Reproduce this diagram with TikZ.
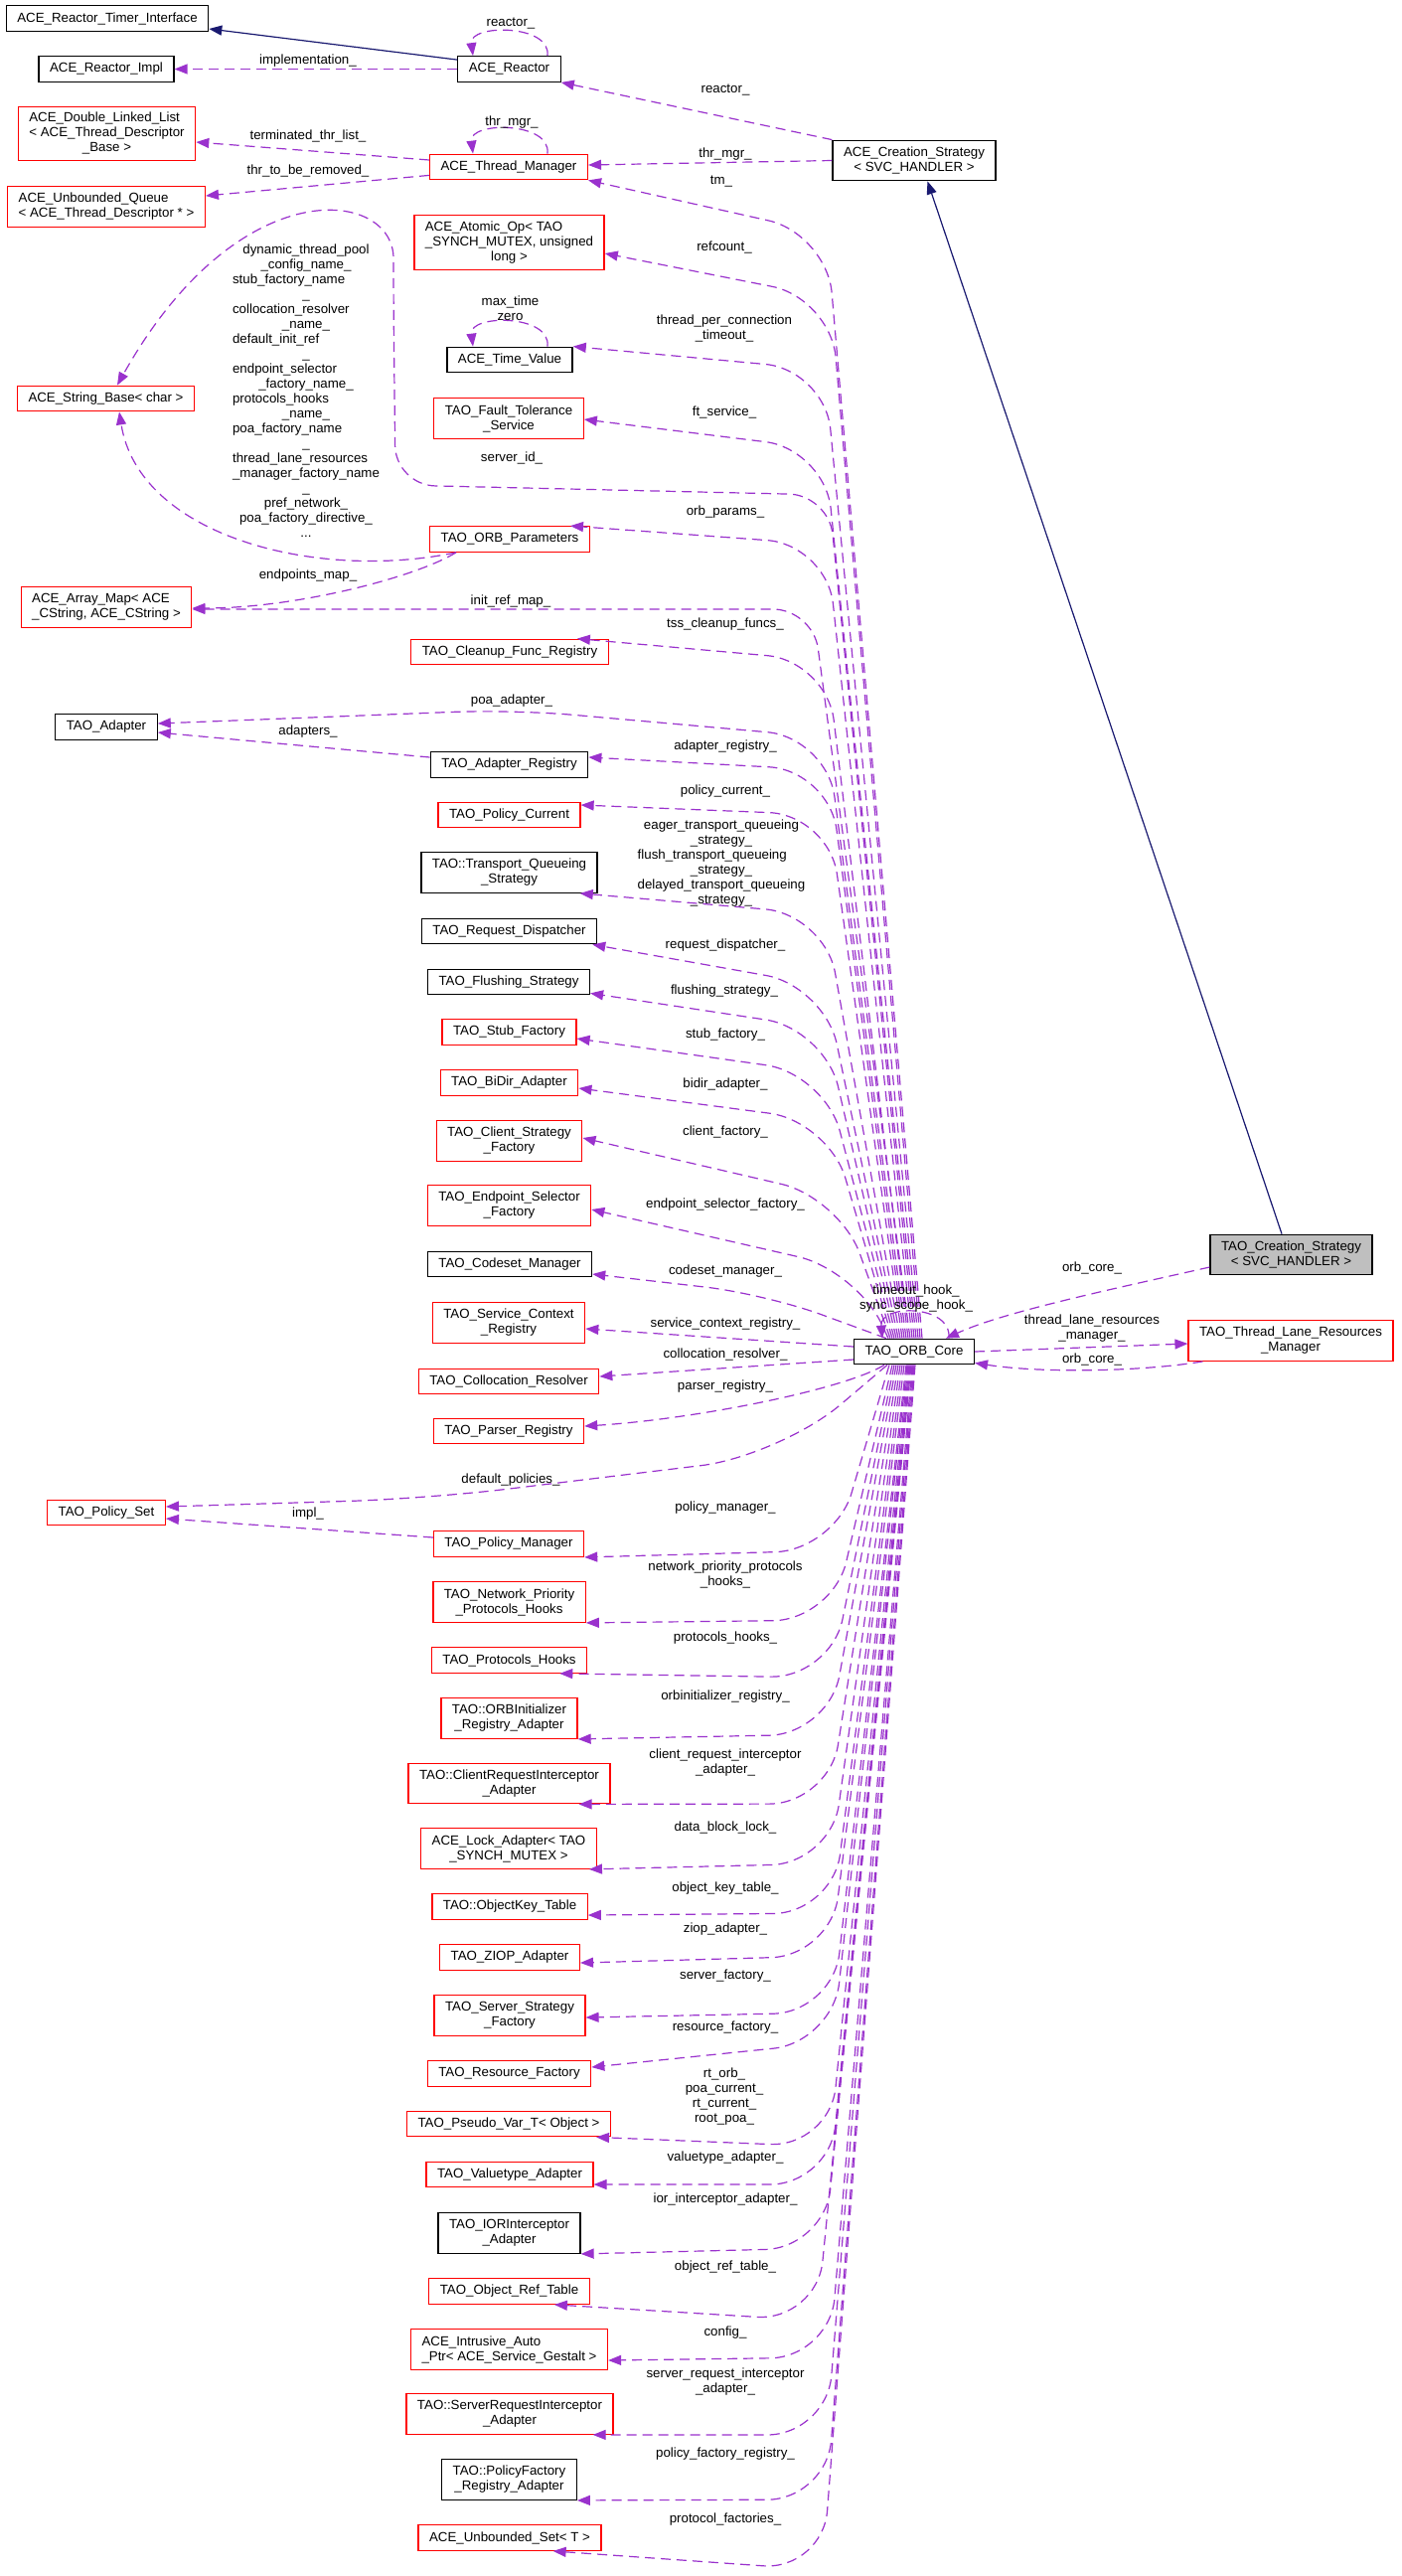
\documentclass[tikz,border=0pt]{standalone}
\usepackage{fontspec}
\setmainfont{Liberation Sans}
\usetikzlibrary{arrows.meta}

\definecolor{edgepurple}{HTML}{9A32CD}
\definecolor{inhnavy}{HTML}{191970}
\definecolor{nodered}{HTML}{FF0000}
\definecolor{leafgray}{HTML}{BFBFBF}

\begin{document}
\begin{tikzpicture}[x=1pt, y=-1pt,
    every node/.style={font=\fontsize{13.3}{15}\selectfont},
    cls/.style={rectangle, draw=black, line width=1.3pt, fill=white, align=center,
        inner xsep=11pt, inner ysep=2pt, minimum height=25.5pt},
    clsred/.style={cls, draw=nodered},
    twoline/.style={minimum height=40.5pt},
    threeline/.style={minimum height=54.5pt},
    lbl/.style={inner sep=0pt, align=center},
    dep/.style={draw=edgepurple, line width=1.2pt, dash pattern=on 10pt off 6pt,
        rounded corners=60pt, -{Triangle[length=13pt, width=10pt]}},
    inh/.style={draw=inhnavy, line width=1.2pt, -{Triangle[length=13pt, width=10pt]}}]

    \path[use as bounding box, fill=white] (0,0) rectangle (1411,2592);

    % Classes, left column
    \node[cls] (timerIf) at (108,18.5) {ACE\_Reactor\_Timer\_Interface};
    \node[cls] (reactorImpl) at (107,69.5) {ACE\_Reactor\_Impl};
    \node[clsred, threeline] (dll) at (107.5,134.5) {\begin{tabular}{@{}l@{}}ACE\_Double\_Linked\_List\\< ACE\_Thread\_Descriptor\\\multicolumn{1}{@{}c@{}}{\_Base >}\end{tabular}};
    \node[clsred, twoline, align=left] (uqueue) at (107,208) {ACE\_Unbounded\_Queue\\< ACE\_Thread\_Descriptor * >};
    \node[clsred] (strBase) at (106.5,401) {ACE\_String\_Base< char >};
    \node[clsred, twoline, align=left] (arrMap) at (107,611) {ACE\_Array\_Map< ACE\\\_CString, ACE\_CString >};
    \node[cls] (adapter) at (107,731.5) {TAO\_Adapter};
    \node[clsred] (polSet) at (107,1522) {TAO\_Policy\_Set};

    % Classes, middle column
    \node[cls] (reactor) at (512.5,69.5) {ACE\_Reactor};
    \node[clsred] (thrMgr) at (512,168) {ACE\_Thread\_Manager};
    \node[clsred, threeline] (atomic) at (512.5,244) {\begin{tabular}{@{}l@{}}ACE\_Atomic\_Op< TAO\\\_SYNCH\_MUTEX, unsigned\\\multicolumn{1}{@{}c@{}}{long >}\end{tabular}};
    \node[cls] (timeVal) at (513,362) {ACE\_Time\_Value};
    \node[clsred, twoline] (ftService) at (512,421) {TAO\_Fault\_Tolerance\\\_Service};
    \node[clsred] (orbParams) at (513,542.5) {TAO\_ORB\_Parameters};
    \node[clsred] (cleanup) at (513,656) {TAO\_Cleanup\_Func\_Registry};
    \node[cls] (adRegistry) at (512.5,769.5) {TAO\_Adapter\_Registry};
    \node[clsred] (polCurrent) at (512.5,820) {TAO\_Policy\_Current};
    \node[cls, twoline] (tqStrategy) at (512.5,878) {TAO::Transport\_Queueing\\\_Strategy};
    \node[cls] (reqDisp) at (512.5,937) {TAO\_Request\_Dispatcher};
    \node[cls] (flushStr) at (512,988) {TAO\_Flushing\_Strategy};
    \node[clsred] (stubFact) at (512.5,1038.5) {TAO\_Stub\_Factory};
    \node[clsred] (bidir) at (512.5,1089.5) {TAO\_BiDir\_Adapter};
    \node[clsred, twoline] (clientFact) at (512.5,1148) {TAO\_Client\_Strategy\\\_Factory};
    \node[clsred, twoline] (epSel) at (512.5,1213) {TAO\_Endpoint\_Selector\\\_Factory};
    \node[cls] (codeset) at (513,1272) {TAO\_Codeset\_Manager};
    \node[clsred, twoline] (svcCtx) at (512,1331) {TAO\_Service\_Context\\\_Registry};
    \node[clsred] (colloc) at (512,1390) {TAO\_Collocation\_Resolver};
    \node[clsred] (parser) at (512,1440) {TAO\_Parser\_Registry};
    \node[clsred] (polMgr) at (512,1553.5) {TAO\_Policy\_Manager};
    \node[clsred, twoline] (netPrio) at (512.5,1612) {TAO\_Network\_Priority\\\_Protocols\_Hooks};
    \node[clsred] (protHooks) at (512.5,1670.5) {TAO\_Protocols\_Hooks};
    \node[clsred, twoline] (orbInit) at (512.5,1729) {TAO::ORBInitializer\\\_Registry\_Adapter};
    \node[clsred, twoline] (clientReq) at (512.5,1794.5) {TAO::ClientRequestInterceptor\\\_Adapter};
    \node[clsred, twoline] (lockAd) at (512,1860) {ACE\_Lock\_Adapter< TAO\\\_SYNCH\_MUTEX >};
    \node[clsred] (objKey) at (513,1918.5) {TAO::ObjectKey\_Table};
    \node[clsred] (ziop) at (513,1969.5) {TAO\_ZIOP\_Adapter};
    \node[clsred, twoline] (srvFact) at (513,2028) {TAO\_Server\_Strategy\\\_Factory};
    \node[clsred] (resFact) at (512.5,2086.5) {TAO\_Resource\_Factory};
    \node[clsred] (pseudoVar) at (512,2137) {TAO\_Pseudo\_Var\_T< Object >};
    \node[clsred] (valType) at (513,2188) {TAO\_Valuetype\_Adapter};
    \node[cls, twoline] (iorInt) at (512.5,2247) {TAO\_IORInterceptor\\\_Adapter};
    \node[clsred] (objRef) at (512.5,2305.5) {TAO\_Object\_Ref\_Table};
    \node[clsred, twoline, align=left] (autoPtr) at (512.5,2364) {ACE\_Intrusive\_Auto\\\_Ptr< ACE\_Service\_Gestalt >};
    \node[clsred, twoline] (srvReq) at (513,2429) {TAO::ServerRequestInterceptor\\\_Adapter};
    \node[cls, twoline] (polFactReg) at (512.5,2495) {TAO::PolicyFactory\\\_Registry\_Adapter};
    \node[clsred] (uset) at (513,2553.5) {ACE\_Unbounded\_Set< T >};

    % Classes, right
    \node[cls, twoline] (aceCreat) at (920,161.5) {ACE\_Creation\_Strategy\\< SVC\_HANDLER >};
    \node[cls] (core) at (920,1360) {TAO\_ORB\_Core};
    \node[cls, twoline, fill=leafgray] (taoCreat) at (1299.5,1262.5) {TAO\_Creation\_Strategy\\< SVC\_HANDLER >};
    \node[clsred, twoline] (laneMgr) at (1299,1349) {TAO\_Thread\_Lane\_Resources\\\_Manager};

    % Inheritance
    \draw[inh] ([yshift=-4pt]reactor.north west) -- ([yshift=-10.5pt]timerIf.east);
    \draw[inh] ([xshift=-9.5pt]taoCreat.north) -- ([xshift=13.5pt]aceCreat.south);

    % Reactor / thread manager members
    \draw[dep] (reactor.west) -- (reactorImpl.east);
    \draw[dep] ([xshift=38.5pt]reactor.north) .. controls (555,24) and (472,24) .. ([xshift=-36.5pt]reactor.north);
    \draw[dep] (aceCreat.north west) -- (reactor.south east);
    \draw[dep] (aceCreat.west) -- ([yshift=2pt]thrMgr.east);
    \draw[dep] ([xshift=39pt]thrMgr.north) .. controls (555,122) and (472,122) .. ([xshift=-36pt]thrMgr.north);
    \draw[dep] ([yshift=7pt]thrMgr.west) -- ([yshift=-8.5pt]dll.east);
    \draw[dep] ([yshift=5pt]thrMgr.south west) -- ([yshift=11pt]uqueue.east);
    \draw[dep] ([xshift=38pt]timeVal.north) .. controls (555,316) and (472,316) .. ([xshift=-37pt]timeVal.north);

    % ORB parameters members
    \draw[dep] ([xshift=27pt]orbParams.south west) .. controls (320,585) and (140,540) .. ([xshift=13.5pt]strBase.south);
    \draw[dep] ([xshift=27pt]orbParams.south west) .. controls (420,580) and (300,612) .. ([yshift=-1pt]arrMap.east);
    \draw[dep] ([yshift=7.5pt]adRegistry.west) -- ([yshift=-5.5pt]adapter.east);
    \draw[dep] ([yshift=6.5pt]polMgr.west) -- ([yshift=-6pt]polSet.east);

    % ORB core members, upwards
    \foreach \tgt/\anc/\dx/\dy/\sx/\vx/\vy in {
        thrMgr/south east/0/0/8/832/235,
        atomic/east/0/-11/6/836/300,
        timeVal/north east/0/0/4/830/372,
        ftService/east/0/-1/2/830/452,
        orbParams/north east/-20/0/-2/832/548,
        cleanup/north east/-32/0/-6/832/665,
        adRegistry/east/0/7.5/-10/834/775,
        polCurrent/east/0/10/-12/834/820,
        tqStrategy/south east/-18/0/-14/830/920,
        reqDisp/south east/-5/0/-16/830/992,
        flushStr/south east/0/2/-18/830/1035,
        stubFact/east/0/-6.5/-20/830/1080,
        bidir/east/0/-5.5/-22/834/1128,
        clientFact/east/0/3/-24/845/1205,
        epSel/east/0/-4/-26/862/1278,
        codeset/east/0/-10/-28/770/1302}
        \draw[dep] ([xshift=\sx pt]core.north) -- (\vx,\vy) -- ([xshift=\dx pt, yshift=\dy pt]\tgt.\anc);
    \draw[dep, rounded corners=40pt] (core.north) -- (834,498) -- (398,488) -- (396,300)
        .. controls (396,190) and (240,170) .. ([xshift=11.5pt]strBase.north);
    \draw[dep, rounded corners=40pt] ([xshift=-4pt]core.north) -- (818,613) -- ([yshift=-2pt]arrMap.east);
    \draw[dep] ([xshift=-8pt]core.north) -- (832,742) -- (517,714) -- ([yshift=3.5pt]adapter.east);
    \draw[dep] ([yshift=5pt]core.west) -- ([yshift=-6pt]svcCtx.east);
    \draw[dep] ([yshift=-8pt]core.west) -- ([yshift=5pt]colloc.east);

    % ORB core members, downwards
    \draw[dep] ([xshift=-30pt]core.south) .. controls (850,1398) and (700,1428) .. ([yshift=5pt]parser.east);
    \draw[dep, rounded corners=80pt] ([xshift=-27pt]core.south) -- (785,1465) -- (430,1508) -- ([yshift=6pt]polSet.east);
    \foreach \tgt/\anc/\dx/\dy/\sx/\vx/\vy in {
        polMgr/south east/0/0/-25/840/1560,
        netPrio/south east/0/0/-22/838/1630,
        protHooks/south east/-28/0/-20/836/1688,
        orbInit/south east/0/0/-18/834/1745,
        clientReq/south east/-32/0/-16/834/1815,
        lockAd/south east/-8/0/-14/836/1875,
        objKey/east/0/-8.5/-12/838/1925,
        ziop/east/0/-5.5/-10/836/1968,
        srvFact/east/0/-2/-8/838/2025,
        resFact/east/0/6.5/-7/838/2055,
        pseudoVar/south east/-15/0/-6/835/2160,
        valType/east/0/-10/-5/835/2198,
        iorInt/south east/0/0/-4/830/2262,
        objRef/south east/-36/0/-3/822/2335,
        autoPtr/east/0/-11/-2/835/2372,
        srvReq/south east/-21/0/-1/832/2450,
        polFactReg/south east/0/0/0/832/2515,
        uset/south east/-49/0/1/828/2586}
        \draw[dep] ([xshift=\sx pt]core.south) -- (\vx,\vy) -- ([xshift=\dx pt, yshift=\dy pt]\tgt.\anc);

    % ORB core and its neighbours on the right
    \draw[dep] ([xshift=35pt]core.north) .. controls (958,1312) and (885,1312) .. ([xshift=-32pt]core.north);
    \draw[dep] ([yshift=-12.5pt]taoCreat.west) .. controls (1120,1297) and (1010,1320) .. ([xshift=32pt]core.north);
    \draw[dep] (core.east) -- ([yshift=-3pt]laneMgr.west);
    \draw[dep] ([xshift=15pt]laneMgr.south west) .. controls (1150,1380) and (1050,1382) .. ([yshift=2pt]core.south east);

    % Edge labels
    \node[lbl] (lReactorSelf) at (514,24) {reactor\_};
    \node[lbl] (lImpl) at (310,61) {implementation\_};
    \node[lbl] (lReactor) at (730,91) {reactor\_};
    \node[lbl] (lThrSelf) at (515,123) {thr\_mgr\_};
    \node[lbl] (lTermList) at (310,137) {terminated\_thr\_list\_};
    \node[lbl] (lThrMgr) at (730,155) {thr\_mgr\_};
    \node[lbl] (lRemoved) at (310,172) {thr\_to\_be\_removed\_};
    \node[lbl] (lTm) at (726,183) {tm\_};
    \node[lbl] (lRefcount) at (729,249) {refcount\_};
    \node[lbl] (lTimeSelf) at (513.5,310) {max\_time\\zero};
    \node[lbl] (lTpc) at (729,330) {thread\_per\_connection\\\_timeout\_};
    \node[lbl] (lFt) at (729,415) {ft\_service\_};
    \node[lbl] (lNames) at (308,395) {\begin{tabular}{@{}c@{}}
        dynamic\_thread\_pool\\
        \_config\_name\_\\
        \multicolumn{1}{@{}l@{}}{stub\_factory\_name}\\
        \_\\
        \multicolumn{1}{@{}l@{}}{collocation\_resolver}\\
        \_name\_\\
        \multicolumn{1}{@{}l@{}}{default\_init\_ref}\\
        \_\\
        \multicolumn{1}{@{}l@{}}{endpoint\_selector}\\
        \_factory\_name\_\\
        \multicolumn{1}{@{}l@{}}{protocols\_hooks}\\
        \_name\_\\
        \multicolumn{1}{@{}l@{}}{poa\_factory\_name}\\
        \_\\
        \multicolumn{1}{@{}l@{}}{thread\_lane\_resources}\\
        \_manager\_factory\_name\\
        \_\\
        pref\_network\_\\
        poa\_factory\_directive\_\\
        ...
        \end{tabular}};
    \node[lbl] (lServerId) at (515,461) {server\_id\_};
    \node[lbl] (lOrbParams) at (730,515) {orb\_params\_};
    \node[lbl] (lEndpoints) at (310,579) {endpoints\_map\_};
    \node[lbl] (lInitRef) at (514,605) {init\_ref\_map\_};
    \node[lbl] (lTss) at (730,628) {tss\_cleanup\_funcs\_};
    \node[lbl] (lPoa) at (515,705) {poa\_adapter\_};
    \node[lbl] (lAdapters) at (310,736) {adapters\_};
    \node[lbl] (lAdReg) at (730,751) {adapter\_registry\_};
    \node[lbl] (lPolCur) at (730,796) {policy\_current\_};
    \node[lbl] (lQueue) at (726,868.5) {\begin{tabular}{@{}c@{}}
        eager\_transport\_queueing\\
        \_strategy\_\\
        \multicolumn{1}{@{}l@{}}{flush\_transport\_queueing}\\
        \_strategy\_\\
        delayed\_transport\_queueing\\
        \_strategy\_
        \end{tabular}};
    \node[lbl] (lReqDisp) at (730,951) {request\_dispatcher\_};
    \node[lbl] (lFlush) at (729,997) {flushing\_strategy\_};
    \node[lbl] (lStub) at (730,1041) {stub\_factory\_};
    \node[lbl] (lBidir) at (730,1091) {bidir\_adapter\_};
    \node[lbl] (lClient) at (730,1139) {client\_factory\_};
    \node[lbl] (lEpSel) at (730,1212) {endpoint\_selector\_factory\_};
    \node[lbl] (lCodeset) at (730,1279) {codeset\_manager\_};
    \node[lbl] (lSvcCtx) at (730,1332) {service\_context\_registry\_};
    \node[lbl] (lColloc) at (730,1363) {collocation\_resolver\_};
    \node[lbl] (lParser) at (730,1395) {parser\_registry\_};
    \node[lbl] (lDefPol) at (514,1489) {default\_policies\_};
    \node[lbl] (lImplPol) at (310,1523) {impl\_};
    \node[lbl] (lPolMgr) at (730,1517) {policy\_manager\_};
    \node[lbl] (lNetPrio) at (730,1584.5) {network\_priority\_protocols\\\_hooks\_};
    \node[lbl] (lProtHooks) at (730,1648) {protocols\_hooks\_};
    \node[lbl] (lOrbInit) at (730,1707) {orbinitializer\_registry\_};
    \node[lbl] (lClientReq) at (730,1774) {client\_request\_interceptor\\\_adapter\_};
    \node[lbl] (lLock) at (730,1839) {data\_block\_lock\_};
    \node[lbl] (lObjKey) at (730,1900) {object\_key\_table\_};
    \node[lbl] (lZiop) at (730,1941) {ziop\_adapter\_};
    \node[lbl] (lSrvFact) at (730,1988) {server\_factory\_};
    \node[lbl] (lResFact) at (730,2040) {resource\_factory\_};
    \node[lbl] (lRt) at (729,2110) {rt\_orb\_\\poa\_current\_\\rt\_current\_\\root\_poa\_};
    \node[lbl] (lValType) at (730,2171) {valuetype\_adapter\_};
    \node[lbl] (lIor) at (730,2213) {ior\_interceptor\_adapter\_};
    \node[lbl] (lObjRef) at (730,2281) {object\_ref\_table\_};
    \node[lbl] (lConfig) at (730,2347) {config\_};
    \node[lbl] (lSrvReq) at (730,2396.5) {server\_request\_interceptor\\\_adapter\_};
    \node[lbl] (lPolFact) at (730,2469) {policy\_factory\_registry\_};
    \node[lbl] (lProtFact) at (730,2535) {protocol\_factories\_};
    \node[lbl] (lCoreSelf) at (922,1307) {timeout\_hook\_\\sync\_scope\_hook\_};
    \node[lbl] (lOrbCore1) at (1099,1276) {orb\_core\_};
    \node[lbl] (lLane) at (1099,1336.5) {thread\_lane\_resources\\\_manager\_};
    \node[lbl] (lOrbCore2) at (1099,1368) {orb\_core\_};
\end{tikzpicture}
\end{document}
